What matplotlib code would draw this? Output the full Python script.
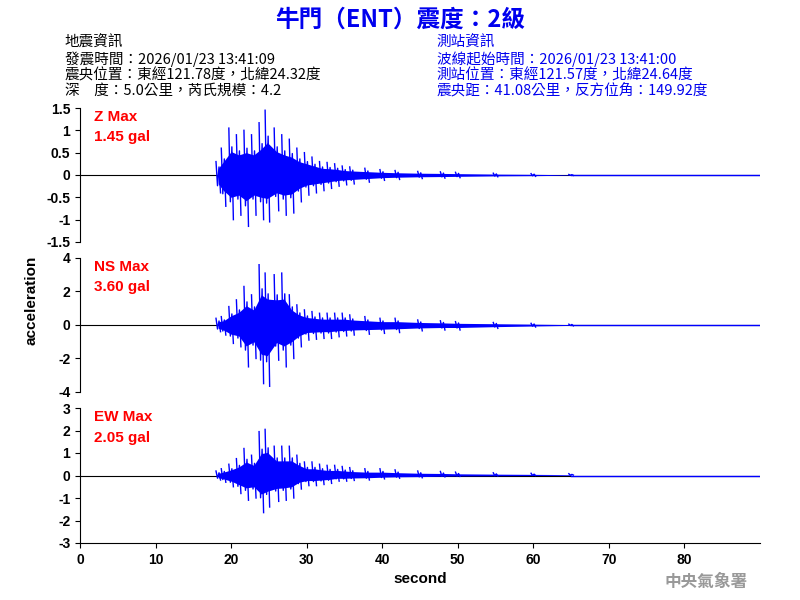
import matplotlib
matplotlib.use("Agg")
import matplotlib.pyplot as plt
import numpy as np

plt.rcParams['font.family'] = ['Noto Sans CJK TC', 'DejaVu Sans']

times = [18.3,19,20,21,22,23,24,24.8,26,27,28,29,30,31,32,33,34,35,36,38,40,42,45,48,50,55,60,65]
z_up = [0.3,0.6,1.05,0.9,1.0,0.9,1.17,1.45,1.05,0.9,0.8,0.6,0.5,0.4,0.3,0.28,0.25,0.2,0.18,0.15,0.12,0.1,0.08,0.07,0.06,0.04,0.03,0.01]
z_lo = [-0.4,-0.7,-1.0,-0.9,-1.15,-0.9,-1.0,-1.05,-0.8,-0.9,-0.85,-0.6,-0.45,-0.4,-0.35,-0.3,-0.25,-0.22,-0.2,-0.16,-0.12,-0.1,-0.08,-0.07,-0.06,-0.04,-0.03,-0.01]
ns_up = [0.4,0.5,1.1,1.5,2.3,1.8,3.6,3.1,3.0,3.1,1.8,1.2,0.9,0.8,0.7,0.7,0.7,0.7,0.6,0.5,0.4,0.4,0.3,0.25,0.2,0.15,0.1,0.05]
ns_lo = [-0.4,-0.6,-1.1,-1.3,-2.5,-2.0,-3.5,-3.66,-2.1,-2.5,-2.0,-1.3,-0.9,-0.85,-0.8,-0.8,-0.7,-0.65,-0.6,-0.55,-0.5,-0.45,-0.35,-0.3,-0.3,-0.2,-0.12,-0.05]
ew_up = [0.2,0.3,0.5,0.75,1.2,0.9,1.95,2.05,1.3,1.3,1.3,0.9,0.6,0.6,0.5,0.45,0.45,0.4,0.35,0.3,0.3,0.25,0.2,0.18,0.15,0.12,0.1,0.08]
ew_lo = [-0.2,-0.3,-0.5,-0.8,-1.1,-1.0,-1.65,-1.4,-1.15,-1.1,-1.0,-0.6,-0.45,-0.45,-0.4,-0.35,-0.25,-0.25,-0.22,-0.2,-0.15,-0.12,-0.1,-0.06,-0.04,-0.02,0.0,0.02]

channels = [
    ("Z Max", "1.45 gal", z_up, z_lo, (-1.5, 1.5), [-1.5,-1,-0.5,0,0.5,1,1.5], ["-1.5","-1","-0.5","0","0.5","1","1.5"]),
    ("NS Max", "3.60 gal", ns_up, ns_lo, (-4, 4), [-4,-2,0,2,4], ["-4","-2","0","2","4"]),
    ("EW Max", "2.05 gal", ew_up, ew_lo, (-3, 3), [-3,-2,-1,0,1,2,3], ["-3","-2","-1","0","1","2","3"]),
]
x_ticks = [0,10,20,30,40,50,60,70,80]

TF = dict(family='Liberation Sans', weight='bold', size=10)
fig = plt.figure(figsize=(8, 6), dpi=100)
boxes = [(0.1, 0.5967, 0.85, 0.2233), (0.1, 0.3467, 0.85, 0.2233), (0.1, 0.095, 0.85, 0.225)]
for i, (name, mx, up, lo, yl, yt, ytl) in enumerate(channels):
    ax = fig.add_axes(boxes[i])
    ax.axhline(0, color='black', lw=0.8, zorder=1)
    up_a = np.array(up); lo_a = np.array(lo)
    ax.fill_between(times, 0.5 * lo_a, 0.5 * up_a, color='blue', lw=0, zorder=2)
    tt = []
    zz = []
    for k in range(len(times)):
        tt += [times[k] - 0.3, times[k] - 0.1, times[k] + 0.1, times[k] + 0.3, np.nan]
        zz += [up_a[k], 0.6 * lo_a[k], 0.6 * up_a[k], lo_a[k], np.nan]
    ax.plot(tt, zz, color='blue', lw=1.0, zorder=2)
    ax.plot([times[-1], 90], [0, 0], color='blue', lw=1.0)
    ax.set_xlim(0, 90)
    ax.set_ylim(*yl)
    ax.set_yticks(yt)
    ax.set_yticklabels(ytl, fontdict=TF)
    for s in ['top', 'right']:
        ax.spines[s].set_visible(False)
    if i < 2:
        ax.spines['bottom'].set_visible(False)
        ax.set_xticks([])
    else:
        ax.set_xticks(x_ticks)
        ax.set_xticklabels([str(v) for v in x_ticks], fontdict=TF)
        ax.set_xlabel("second", fontsize=11, fontweight='bold', family='Liberation Sans')
    ax.text(0.02, 0.93, name, transform=ax.transAxes, color='red', fontsize=11, fontweight='bold', va='center', family='Liberation Sans')
    ax.text(0.02, 0.78, mx, transform=ax.transAxes, color='red', fontsize=11, fontweight='bold', va='center', family='Liberation Sans')

fig.text(0.04, 0.5, "acceleration", rotation=90, ha='center', va='center', fontsize=11, fontweight='bold', family='Liberation Sans')
fig.text(0.5, 0.968, "牛門（ENT）震度：2級", ha='center', va='center', color='#0000ee', fontsize=17, fontweight='bold')
left = ["地震資訊", "發震時間：2026/01/23 13:41:09", "震央位置：東經121.78度，北緯24.32度", "深　度：5.0公里，芮氏規模：4.2"]
right = ["測站資訊", "波線起始時間：2026/01/23 13:41:00", "測站位置：東經121.57度，北緯24.64度", "震央距：41.08公里，反方位角：149.92度"]
for j, s in enumerate(left):
    fig.text(0.081, 1 - (43 + 16 * j) / 600, s, fontsize=10.5, fontweight='medium', va='center', color='black')
for j, s in enumerate(right):
    fig.text(0.546, 1 - (43 + 16 * j) / 600, s, fontsize=10.5, fontweight='medium', va='center', color='#0000ee')
fig.text(0.935, 0.03, "中央氣象署", ha='right', va='center', color='#999999', fontsize=12, fontweight='bold')
fig.savefig("out.png", dpi=100)
